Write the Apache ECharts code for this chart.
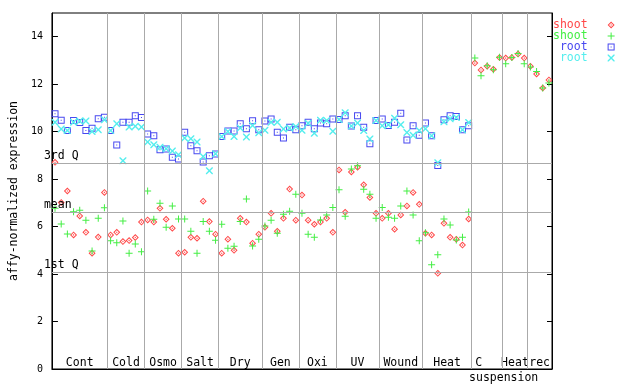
<!DOCTYPE html>
<html><head><meta charset="utf-8">
<script src="https://cdn.jsdelivr.net/npm/echarts@6/dist/echarts.min.js"></script>
<style>html,body{margin:0;padding:0;background:#fff}#c{width:640px;height:384px}</style>
</head><body><div id="c"></div>
<script>
const groupLabels = ['Cont','Cold','Osmo','Salt','Dry','Gen','Oxi','UV','Wound','Heat','C suspension','Heat','rec'];
const groupSizes = [9,6,6,6,7,6,6,7,7,8,5,4,4];
const yTicks = [0,2,4,6,8,10,12,14];
const refLabels = ['3rd Q','mean','1st Q'];
const refValues = [8.68, 6.61, 4.08];

const shoot1 = [8.71,7.02,7.50,5.65,6.45,5.76,4.88,5.56,7.44,
  5.65,5.76,5.37,5.41,5.54,6.19,
  6.28,6.19,6.77,6.31,5.93,4.88,
  4.92,5.55,5.51,7.07,6.21,5.68,
  4.88,5.47,5.00,6.35,6.19,5.30,5.68,
  5.97,6.56,5.80,6.35,7.58,6.27,
  7.33,6.27,6.10,6.19,6.35,5.76,
  8.39,6.60,8.30,8.50,7.76,7.23,6.56,
  6.35,6.56,5.89,6.49,6.87,7.44,6.94,
  5.72,5.65,4.03,6.14,5.55,5.47,5.22,6.32,
  12.89,12.60,12.76,12.63,13.12,
  13.10,13.13,13.27,13.10,
  12.76,12.43,11.84,12.18];
const shoot2 = [6.77,6.11,5.69,6.63,6.69,6.27,4.97,6.35,6.79,
  5.40,5.32,6.24,4.88,5.27,4.94,
  7.50,6.31,6.98,5.97,6.87,6.32,
  6.32,5.80,4.88,6.21,5.80,5.42,
  6.10,5.09,5.17,6.21,7.16,5.18,5.47,
  6.03,6.27,5.72,6.52,6.65,7.36,
  6.56,5.68,5.55,6.28,6.49,6.81,
  7.55,6.44,8.43,8.56,7.57,7.36,6.35,
  6.81,6.39,6.35,6.87,7.50,6.49,5.40,
  5.74,4.39,4.81,6.32,6.07,5.44,5.55,6.61,
  13.10,12.36,12.78,12.61,13.14,
  12.86,13.13,13.29,12.86,
  12.72,12.54,11.84,12.05];
const root1 = [10.75,10.48,10.05,10.47,10.39,10.05,10.14,10.54,10.61,
  10.05,9.44,10.40,10.40,10.67,10.60,
  9.90,9.83,9.24,9.27,8.92,8.85,
  9.98,9.41,9.20,8.72,8.99,9.06,
  9.80,10.03,10.03,10.33,10.12,10.46,10.08,
  10.45,10.53,9.98,9.73,10.19,10.08,
  10.25,10.40,10.12,10.36,10.33,10.53,
  10.51,10.67,10.24,10.67,10.19,9.49,10.47,
  10.53,10.26,10.40,10.78,9.65,10.25,9.85,
  10.36,9.83,8.57,10.50,10.67,10.64,10.08,10.25,
  null,null,null,null,null,null,null,null,null,null,null,null,null];
const root2 = [10.40,10.11,10.05,10.40,10.45,10.45,10.01,10.08,10.50,
  10.05,10.33,8.77,10.20,10.23,10.20,
  9.56,9.45,9.34,9.28,9.19,9.03,
  9.73,9.70,9.56,8.95,8.35,9.07,
  9.80,10.01,9.80,10.15,9.78,10.26,9.95,
  10.06,10.40,10.40,10.11,10.15,10.22,
  10.06,10.35,9.93,10.48,10.47,10.02,
  10.51,10.80,10.24,10.36,10.05,9.69,10.47,
  10.25,10.29,10.57,10.29,9.97,9.85,10.05,
  10.12,9.83,8.69,10.42,10.54,10.60,10.08,10.39,
  null,null,null,null,null,null,null,null,null,null,null,null,null];

const RED = '#ff4848', GREEN = '#44ee44', BLUE = '#4848f0', CYAN = '#55eeee';
const FONT = 'DejaVu Sans Mono';
const SYM_DIAMOND = 'path://M3.5,0L7,3.5L3.5,7L0,3.5Z M3.5,1.4L1.4,3.5L3.5,5.6L5.6,3.5Z M3.5,2.7L4.3,3.5L3.5,4.3L2.7,3.5Z';
const SYM_PLUS = 'path://M3,0H4V3H7V4H4V7H3V4H0V3H3Z';
const SYM_SQUARE = 'path://M0,0H7V7H0Z M1,1V6H6V1Z M3,3H4V4H3Z';
const SYM_X = 'path://M0,0L1,0L3.5,2.5L6,0L7,0L7,1L4.5,3.5L7,6L7,7L6,7L3.5,4.5L1,7L0,7L0,6L2.5,3.5L0,1Z';

const N = groupSizes.reduce((a, b) => a + b, 0);
const bounds = [], centers = [];
let acc = 0;
groupSizes.forEach((s, i) => { centers.push(acc + s / 2); acc += s; if (i < groupSizes.length - 1) bounds.push(acc); });
const toPts = arr => arr.map((v, i) => v == null ? null : [i + 0.5, v]).filter(Boolean);
const findGroup = v => centers.findIndex(c => Math.abs(c - v) < 1e-6);

const chart = echarts.init(document.getElementById('c'), null, {renderer: 'canvas'});
const mkSeries = (name, arr, sym, color) => ({
  name, type: 'scatter', data: toPts(arr), symbol: sym, symbolSize: 7,
  itemStyle: {color, opacity: 1}, emphasis: {disabled: true}, silent: true, z: 3
});
chart.setOption({
  animation: false,
  grid: {left: 44, right: 88, top: 13, bottom: 15, show: true, borderColor: '#000', borderWidth: 1},
  xAxis: [{
    type: 'value', min: 0, max: N,
    axisLine: {show: true, onZero: false, lineStyle: {color: '#000', width: 1}},
    axisTick: {show: false}, splitLine: {show: false},
    axisLabel: {
      inside: true, margin: 0, customValues: centers, color: '#000', fontFamily: FONT, fontSize: 11.5,
      formatter: v => { const k = findGroup(v); if (k < 0) return ''; const p = groupLabels[k].split(' ');
        return p.length > 1 ? '{first|' + p[0] + '}' : p[0]; },
      rich: {first: {fontFamily: FONT, fontSize: 11.5, color: '#000', padding: [0, 17, 0, 0]}}
    }
  }, {
    type: 'value', min: 0, max: N, position: 'bottom',
    axisLine: {show: false}, axisTick: {show: false}, splitLine: {show: false},
    axisLabel: {
      margin: 3, customValues: centers.filter((c, k) => groupLabels[k].indexOf(' ') >= 0),
      color: '#000', fontFamily: FONT, fontSize: 11.5,
      formatter: v => { const k = findGroup(v); if (k < 0) return ''; return '{second|' + groupLabels[k].split(' ').slice(1).join(' ') + '}'; },
      rich: {second: {fontFamily: FONT, fontSize: 11.5, color: '#000', padding: [0, 0, 0, 33]}}
    }
  }],
  yAxis: [{
    type: 'value', min: 0, max: 15,
    axisLine: {show: true, onZero: false, lineStyle: {color: '#000', width: 1}},
    axisTick: {show: true, inside: true, length: 6, customValues: yTicks, lineStyle: {color: '#000'}},
    axisLabel: {margin: 9, customValues: yTicks, color: '#000', fontFamily: FONT, fontSize: 10},
    splitLine: {show: false},
    name: 'affy-normalized expression', nameLocation: 'middle', nameGap: 30,
    nameTextStyle: {color: '#000', fontFamily: FONT, fontSize: 11.5}
  }, {
    type: 'value', min: 0, max: 15, position: 'right',
    axisLine: {show: true, onZero: false, lineStyle: {color: '#000', width: 1}},
    axisTick: {show: true, inside: true, length: 5, customValues: yTicks, lineStyle: {color: '#000'}},
    axisLabel: {show: false}, splitLine: {show: false}
  }],
  legend: {
    orient: 'vertical', left: 548, top: 14, align: 'right', itemWidth: 7, itemHeight: 7, itemGap: -1,
    selectedMode: false, formatter: n => n.trim(),
    textStyle: {fontFamily: FONT, fontSize: 11.5, lineHeight: 11, padding: [0, 15, 0, 0]},
    data: [
      {name: 'shoot', textStyle: {color: RED}},
      {name: 'shoot ', textStyle: {color: GREEN}},
      {name: 'root', textStyle: {color: BLUE}},
      {name: 'root ', textStyle: {color: CYAN}}
    ]
  },
  series: [
    {
      type: 'scatter', data: [], silent: true, z: 1,
      markLine: {
        silent: true, symbol: ['none', 'none'], animation: false,
        lineStyle: {color: '#aaaaaa', type: 'solid', width: 1},
        label: {show: false},
        emphasis: {disabled: true},
        data: [
          ...bounds.map(b => ({xAxis: b})),
          ...refValues.map((v, i) => ({
            yAxis: v,
            label: {show: true, formatter: refLabels[i], position: 'insideStartTop', distance: [-8, 1],
              color: '#000', fontFamily: FONT, fontSize: 11.5}
          }))
        ]
      }
    },
    mkSeries('shoot', shoot1, SYM_DIAMOND, RED),
    mkSeries('shoot ', shoot2, SYM_PLUS, GREEN),
    mkSeries('root', root1, SYM_SQUARE, BLUE),
    mkSeries('root ', root2, SYM_X, CYAN)
  ]
});
</script></body></html>
